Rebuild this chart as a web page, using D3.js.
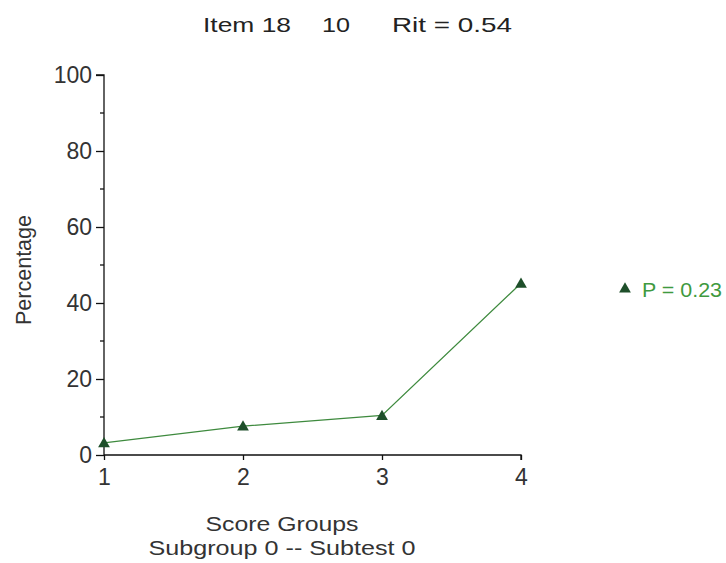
<!DOCTYPE html>
<html>
<head>
<meta charset="utf-8">
<script src="https://cdn.jsdelivr.net/npm/d3@7"></script>
<style>
  body { margin: 0; background: #fff; }
  text { font-family: "Liberation Sans", Arial, sans-serif; fill: #222; }
</style>
</head>
<body>
<div id="chart1"></div>
<script>
const width = 726;
const height = 563;

// data
const scoreGroups = [1, 2, 3, 4];
const percentages = [3.2, 7.6, 10.4, 45.2];
const yTicks = [0, 20, 40, 60, 80, 100];
const yMinorTicks = [10, 30, 50, 70, 90];
const legendLabel = "P = 0.23";

const margin = { top: 75, left: 104, bottom: 108, right: 205 };

const svg = d3.select("#chart1").append("svg")
    .attr("width", width)
    .attr("height", height);

const xScale = d3.scaleLinear()
    .domain([1, 4])
    .range([margin.left, width - margin.right]);

const yScale = d3.scaleLinear()
    .domain([0, 100])
    .range([height - margin.bottom, margin.top]);

const lineColor = "#3e8a3e";
const markerColor = "#1e4f2a";

// y axis
const yAxis = d3.axisLeft(yScale).tickValues(yTicks).tickSize(8).tickPadding(4);
const gy = svg.append("g")
    .attr("class", "y-axis")
    .attr("transform", `translate(${margin.left},0)`)
    .call(yAxis);
gy.select(".domain").attr("d", `M0,${yScale(100)}H-8H0V${yScale(0)}`).attr("stroke", "#111").attr("stroke-width", 1.3);
gy.selectAll(".tick line").attr("stroke", "#111").attr("stroke-width", 1.3);
gy.selectAll(".tick text").attr("font-size", 23).style("fill", "#333")
    .attr("font-family", "Liberation Sans, Arial, sans-serif");

gy.selectAll("line.minor")
    .data(yMinorTicks)
    .join("line")
    .attr("class", "minor")
    .attr("x1", -4).attr("x2", 0)
    .attr("y1", d => yScale(d)).attr("y2", d => yScale(d))
    .attr("stroke", "#111").attr("stroke-width", 1.3);

// x axis
const xAxis = d3.axisBottom(xScale).tickValues(scoreGroups).tickFormat(d3.format("d"))
    .tickSize(5).tickPadding(9);
const gx = svg.append("g")
    .attr("class", "x-axis")
    .attr("transform", `translate(0,${yScale(0)})`)
    .call(xAxis);
gx.select(".domain").attr("d", `M${xScale(1)},0H${xScale(4)}V5`).attr("stroke", "#111").attr("stroke-width", 1.3);
gx.selectAll(".tick line").attr("stroke", "#111").attr("stroke-width", 1.3);
gx.selectAll(".tick text").attr("font-size", 23).style("fill", "#333")
    .attr("font-family", "Liberation Sans, Arial, sans-serif");

// line
const line = d3.line()
    .x((d, i) => xScale(scoreGroups[i]))
    .y(d => yScale(d));

svg.append("path")
    .datum(percentages)
    .attr("fill", "none")
    .attr("stroke", lineColor)
    .attr("stroke-width", 1.3)
    .attr("d", line);

const tri = d3.symbol().type(d3.symbolTriangle).size(60);

svg.selectAll("path.marker")
    .data(percentages)
    .join("path")
    .attr("class", "marker")
    .attr("transform", (d, i) => `translate(${xScale(scoreGroups[i])},${yScale(d) + 1})`)
    .attr("d", tri)
    .attr("fill", markerColor);

// title
svg.append("text").attr("x", 203).attr("y", 32).attr("font-size", 21)
    .attr("textLength", 88).attr("lengthAdjust", "spacingAndGlyphs").text("Item 18");
svg.append("text").attr("x", 322).attr("y", 32).attr("font-size", 21)
    .attr("textLength", 28).attr("lengthAdjust", "spacingAndGlyphs").text("10");
svg.append("text").attr("x", 392).attr("y", 32).attr("font-size", 21)
    .attr("textLength", 120).attr("lengthAdjust", "spacingAndGlyphs").text("Rit = 0.54");

// axis labels
svg.append("text")
    .attr("transform", `translate(31,270) rotate(-90)`)
    .attr("text-anchor", "middle")
    .attr("font-size", 22)
    .style("fill", "#333")
    .attr("textLength", 110).attr("lengthAdjust", "spacingAndGlyphs")
    .text("Percentage");

svg.append("text").attr("x", 282).attr("y", 531).attr("text-anchor", "middle")
    .attr("font-size", 21).style("fill", "#333")
    .attr("textLength", 153).attr("lengthAdjust", "spacingAndGlyphs")
    .text("Score Groups");
svg.append("text").attr("x", 282).attr("y", 555).attr("text-anchor", "middle")
    .attr("font-size", 21).style("fill", "#333")
    .attr("textLength", 267).attr("lengthAdjust", "spacingAndGlyphs")
    .text("Subgroup 0  --  Subtest 0");

// legend
svg.append("path")
    .attr("transform", "translate(625,289)")
    .attr("d", tri)
    .attr("fill", markerColor);
svg.append("text").attr("x", 642).attr("y", 297).attr("font-size", 20)
    .style("fill", "#3f9a3f")
    .attr("textLength", 80).attr("lengthAdjust", "spacingAndGlyphs")
    .text(legendLabel);
</script>
</body>
</html>
